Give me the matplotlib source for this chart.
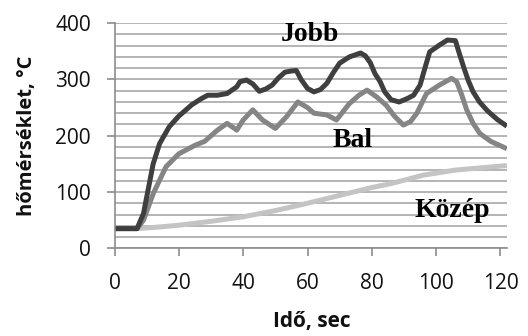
import matplotlib
matplotlib.use("Agg")
import matplotlib.pyplot as plt
from matplotlib.ticker import MultipleLocator

# idő (sec) és hőmérséklet (°C) értékek
jobb_t = [0, 7, 9, 12, 14, 17, 20, 24, 27, 29, 32, 35, 38, 39, 41, 43, 45, 47, 49,
          51, 53, 55, 56.5, 58, 60, 62, 64, 66, 68, 70, 73, 76.5, 78, 79.5, 81,
          82.5, 84, 86, 88.5, 91, 93, 95, 96.5, 98, 101, 103.5, 106, 107, 108.5,
          110, 111.5, 113.5, 116, 119, 122]
jobb_v = [35, 35, 62, 150, 186, 216, 235, 255, 266, 272, 272, 275, 287, 296, 299,
          292, 279, 283, 290, 303, 313, 315, 316, 300, 284, 278, 282, 293, 312, 329,
          340, 347, 342, 330, 310, 297, 278, 264, 260, 266, 272, 290, 320, 349, 361,
          370, 369, 350, 323, 298, 278, 260, 244, 229, 217]

bal_t = [0, 7, 9, 12, 16, 20, 25, 28, 32, 35, 38, 40, 43, 46, 50, 53.5, 57, 60, 62,
         66, 69, 73, 76, 78.5, 81.5, 84.5, 87, 89.8, 92, 94, 97, 101, 104.8, 106.4,
         108, 109.5, 111.5, 113.6, 117, 122]
bal_v = [35, 35, 50, 97, 145, 168, 183, 190, 210, 222, 210, 228, 246, 228, 213, 234,
         260, 250, 240, 237, 228, 257, 272, 281, 269, 254, 235, 219, 225, 240, 275,
         290, 302, 296, 272, 246, 222, 204, 190, 177]

kozep_t = [0, 7, 12, 20, 30, 40, 50, 60, 70, 80, 86, 96, 106, 114, 122]
kozep_v = [35, 35, 37, 41, 48, 56, 67, 80, 94, 108, 115, 130, 139, 143, 147]

x_ticks = [0, 20, 40, 60, 80, 100, 120]
y_ticks = [0, 100, 200, 300, 400]

fig = plt.figure(figsize=(5.28, 3.36), dpi=100)
ax = fig.add_axes([0.217, 0.261, 0.743, 0.670])

# vízszintes rácsvonalak 20-asával
ax.yaxis.set_minor_locator(MultipleLocator(20))
ax.grid(True, which="both", axis="y", color="#b4b4b4", linewidth=1.4)
ax.set_axisbelow(True)

style = dict(linewidth=3.6, solid_joinstyle="round", solid_capstyle="butt")
ax.plot(kozep_t, kozep_v, color="#c4c4c4", **style)
ax.plot(bal_t, bal_v, color="#858585", **style)
ax.plot(jobb_t, jobb_v, color="#3f3f3f", **style)

ax.set_xlim(0, 122)
ax.set_ylim(0, 400)
ax.set_xticks(x_ticks)
ax.set_yticks(y_ticks)

for s in ["top", "right"]:
    ax.spines[s].set_visible(False)
for s in ["left", "bottom"]:
    ax.spines[s].set_color("#8c8c8c")
    ax.spines[s].set_linewidth(1.2)

ax.tick_params(axis="both", which="major", direction="out", length=6,
               width=1.2, color="#8c8c8c", labelsize=15, labelcolor="#111111")
ax.tick_params(axis="y", which="minor", length=0)
ax.tick_params(axis="y", pad=11)
ax.tick_params(axis="x", pad=12)
for lab in ax.get_xticklabels() + ax.get_yticklabels():
    lab.set_family("Open Sans")

fig.text(0.051, 0.597, "hőmérséklet, °C", rotation=90, ha="center", va="center",
         fontsize=14.5, fontweight="bold", family="Open Sans", color="#111111")
fig.text(0.591, 0.042, "Idő, sec", ha="center", va="center",
         fontsize=15, fontweight="bold", family="Open Sans", color="#111111")

lbl = dict(fontsize=20, fontweight="bold", family="Liberation Serif",
           ha="center", va="center", color="black")
ax.text(60.7, 380, "Jobb", **lbl)
ax.text(74, 192, "Bal", **lbl)
ax.text(105, 68, "Közép", **lbl)

fig.savefig("out.png", dpi=100)
